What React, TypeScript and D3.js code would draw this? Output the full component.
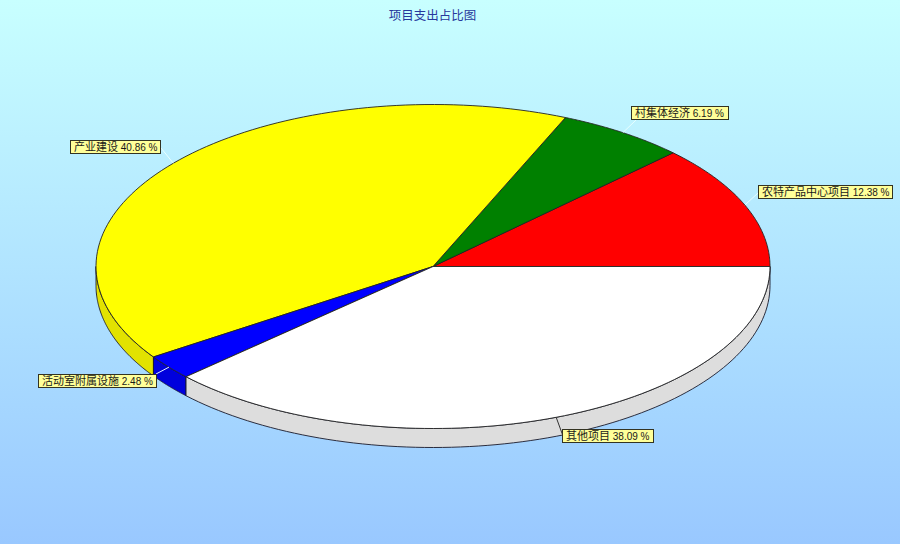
import React from "react";
import * as d3 from "d3";

const title = "项目支出占比图";
const categories = ["农特产品中心项目", "村集体经济", "产业建设", "活动室附属设施", "其他项目"];
const percents = [12.38, 6.19, 40.86, 2.48, 38.09];
const topColors = ["#ff0000", "#008000", "#ffff00", "#0000ff", "#ffffff"];
const sideColors = ["#dd0000", "#006f00", "#e2e200", "#0000dd", "#dddddd"];
// label box [left, top, right, bottom]
const labelBoxes = [
  [758, 185, 892, 198],
  [631, 106, 728, 119],
  [70, 140, 160, 153],
  [38, 374, 156, 387],
  [562, 429, 653, 442],
];
const leaderEnds = [
  [758, 193],
  [636, 120],
  [161, 148],
  [156, 374],
  [563, 436],
];
const leaderColors = ["#e8ffff", "#e8ffff", "#e8ffff", "#e8f4ff", "#333333"];

const W = 900, H = 544;
const cx = 433, cy = 266.5, rx = 337, ry = 162, depth = 19;
const x = d3.scaleLinear().domain([-1, 1]).range([cx - rx, cx + rx]);
const y = d3.scaleLinear().domain([-1, 1]).range([cy + ry, cy - ry]);

const pie = d3.pie<number>().sort(null).startAngle(0).endAngle(2 * Math.PI);
const arcs = pie(percents);
const rimLine = d3.line<number>().x((a) => x(Math.cos(a))).y((a) => y(Math.sin(a)));
const lowerLine = d3.line<number>().x((a) => x(Math.cos(a))).y((a) => y(Math.sin(a)) + depth);
const samples = (a0: number, a1: number) =>
  d3.range(0, 91).map((i) => a0 + ((a1 - a0) * i) / 90);

const topPath = (a0: number, a1: number) =>
  `M${cx},${cy}L${rimLine(samples(a0, a1))!.slice(1)}Z`;

const sidePath = (a0: number, a1: number) => {
  const s = Math.max(a0, Math.PI);
  const e = Math.min(a1, 2 * Math.PI);
  if (e <= s) return null;
  return `${rimLine(samples(s, e))}L${lowerLine(samples(e, s))!.slice(1)}Z`;
};

const font = "'Liberation Sans', 'Noto Sans CJK SC', sans-serif";

export default function App() {
  return (
    <svg width={W} height={H} viewBox={`0 0 ${W} ${H}`} style={{ position: "absolute", left: 0, top: 0 }}>
      <defs>
        <linearGradient id="bg" x1="0" y1="0" x2="0" y2="1">
          <stop offset="0" stopColor="#c8ffff" />
          <stop offset="1" stopColor="#99c8ff" />
        </linearGradient>
      </defs>
      <rect width={W} height={H} fill="url(#bg)" />
      <text x={432.5} y={20} textAnchor="middle" fontFamily={font} fontSize={12.5} fill="#27389c">{title}</text>

      {arcs.map((a, i) => {
        const d = sidePath(a.startAngle, a.endAngle);
        return d ? <path key={"s" + i} d={d} fill={sideColors[i]} stroke="#1a1a2a" strokeWidth={0.9} /> : null;
      })}
      {arcs.map((a, i) => (
        <path key={"t" + i} d={topPath(a.startAngle, a.endAngle)} fill={topColors[i]} stroke="#222222" strokeWidth={0.9} />
      ))}
      {arcs.map((a, i) => {
        const mid = (a.startAngle + a.endAngle) / 2;
        return (
          <line key={"l" + i} x1={x(Math.cos(mid))} y1={y(Math.sin(mid))} x2={leaderEnds[i][0]} y2={leaderEnds[i][1]} stroke={leaderColors[i]} strokeWidth={1} />
        );
      })}
      {categories.map((c, i) => {
        const [l, t, r, b] = labelBoxes[i];
        return (
          <g key={c}>
            <rect x={l + 0.5} y={t + 0.5} width={r - l} height={b - t} fill="#ffff99" stroke="#333322" strokeWidth={1} />
            <text x={l + 4} y={b - 2.5} fontFamily={font} fontSize={10} letterSpacing={0} fill="#1a1a1a">
              <tspan fontSize={11}>{c}</tspan>
              {` ${percents[i].toFixed(2)} %`}
            </text>
          </g>
        );
      })}
    </svg>
  );
}
